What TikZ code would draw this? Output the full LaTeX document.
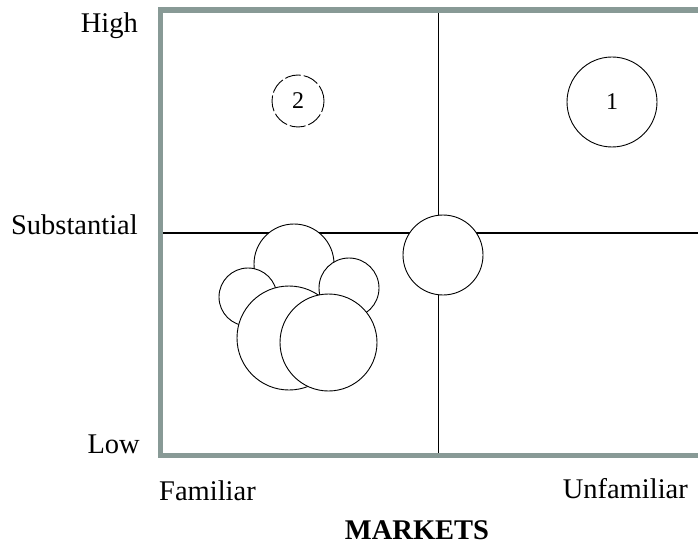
\documentclass[tikz,border=0pt]{standalone}
\usepackage{fontspec}
\setmainfont{Liberation Serif}
\usetikzlibrary{positioning}
\definecolor{framegray}{RGB}{136,154,150}

\begin{document}
\begin{tikzpicture}[x=1pt,y=-1pt]
  \tikzstyle{bub}=[circle,draw,fill=white,inner sep=0pt,line width=0.9pt,font=\fontsize{24}{28}\selectfont]
  \tikzstyle{lbl}=[inner sep=0pt,font=\fontsize{28.5}{34}\selectfont]
  \useasboundingbox (0,0) rectangle (698,545);
  % grid corners and midpoints
  \coordinate (tl) at (160.5,10);
  \coordinate (bl) at (160.5,455.5);
  \coordinate (tr) at (698,10);
  \coordinate (br) at (698,455.5);
  \coordinate (mt) at (438.5,10);
  \coordinate (mb) at (438.5,455.5);
  \coordinate (ml) at (160.5,233);
  \coordinate (mr) at (698,233);
  \draw[line width=1.2pt] (mt) -- (mb) (ml) -- (mr);
  \draw[framegray,line width=5.5pt] (tr) -- (tl) -- (bl) -- (br);
  % bubbles
  \node[bub,minimum size=90pt] (one) at (612,102) {1};
  \node[bub,minimum size=52pt,dash pattern=on 16pt off 3pt] (two) at (298,101) {2};
  \node[bub,minimum size=80pt] (mid) at (443,255) {};
  \node[bub,minimum size=80pt] (ca) at (294,264) {};
  \node[bub,minimum size=58pt] (cb) at (248,297) {};
  \node[bub,minimum size=60pt] (cc) at (349,288) {};
  \node[bub,minimum size=104pt] (cd) at (289,338) {};
  \node[bub,minimum size=97pt] (ce) at (328.5,342.5) {};
  % axis labels
  \node[lbl,anchor=base east] (high) at (138,33) {High};
  \node[lbl,anchor=base east] (subst) at (138,235) {Substantial};
  \node[lbl,anchor=base east] (low) at (140,453) {Low};
  \node[lbl,anchor=base west] (fam) at (159,500) {Familiar};
  \node[lbl,anchor=base east] (unfam) at (688,498) {Unfamiliar};
  \node[lbl,anchor=base,font=\fontsize{28.5}{34}\selectfont\bfseries] (mkt) at (417,539) {MARKETS};
\end{tikzpicture}
\end{document}
